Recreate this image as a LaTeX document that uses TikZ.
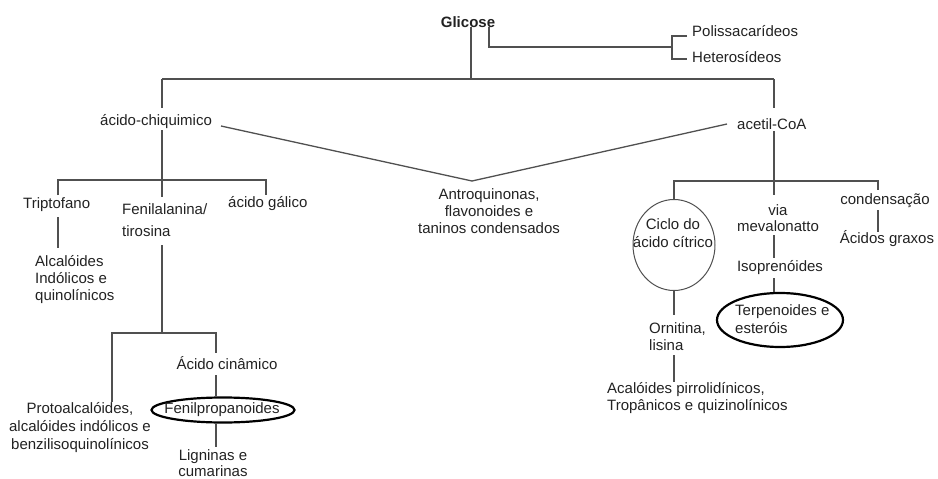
\documentclass[tikz,border=0pt]{standalone}
\usepackage{fontspec}
\setmainfont{Liberation Sans}
\usetikzlibrary{shapes.geometric}
\definecolor{ln}{HTML}{505050}
\definecolor{tx}{HTML}{222222}
\begin{document}
\begin{tikzpicture}[x=1pt,y=-1pt,
  lbl/.style={inner sep=0pt,text=tx,font=\fontsize{15}{17}\selectfont},
  conn/.style={draw=ln,line width=1.3pt},
  thinoval/.style={draw=ln,line width=1pt,ellipse,inner sep=0pt},
  thickoval/.style={draw=black,line width=2.2pt,ellipse,inner sep=0pt}]
\useasboundingbox (0,0) rectangle (938,479);
% text nodes
\node[lbl,font=\fontsize{15}{17}\selectfont\bfseries] (glic) at (468,22) {Glicose};
\node[lbl,anchor=west] (poli) at (692,31) {Polissacarídeos};
\node[lbl,anchor=west] (hetero) at (692,57) {Heterosídeos};
\node[lbl,anchor=west] (chiq) at (100,122) {ácido-chiquimico};
\node[lbl,anchor=west] (acetil) at (737,124) {acetil-CoA};
\node[lbl,align=center] (antro) at (489,211) {Antroquinonas,\\flavonoides e\\taninos condensados};
\node[lbl,anchor=west] (trip) at (23,205) {Triptofano};
\node[lbl,anchor=west,align=left] (feni) at (122,220) {Fenilalanina/\\[5pt]tirosina};
\node[lbl,anchor=west] (galico) at (228,204) {ácido gálico};
\node[lbl,anchor=west,align=left] (alcal) at (35,280) {Alcalóides\\Indólicos e\\quinolínicos};
\node[lbl] (cina) at (227,363) {Ácido cinâmico};
\node[thickoval,minimum width=143pt,minimum height=25pt] (fenilO) at (223,410) {};
\node[lbl] (fenil) at (222,410) {Fenilpropanoides};
\node[lbl,align=center,font=\fontsize{15}{18}\selectfont] (proto) at (80,428) {Protoalcalóides,\\alcalóides indólicos e\\benzilisoquinolínicos};
\node[lbl,align=center,font=\fontsize{15}{16}\selectfont] (lign) at (213,463) {Ligninas e\\cumarinas};
\node[thinoval,minimum width=82pt,minimum height=91pt] (cicloO) at (674,245) {};
\node[lbl,align=center,font=\fontsize{15}{18}\selectfont] (ciclo) at (673,233) {Ciclo do\\ácido cítrico};
\node[lbl,align=center,font=\fontsize{15}{16}\selectfont] (via) at (778,218) {via\\mevalonatto};
\node[lbl] (isop) at (780,268) {Isoprenóides};
\node[thickoval,minimum width=126pt,minimum height=54pt] (terpO) at (780,320) {};
\node[lbl,anchor=west,align=left,font=\fontsize{15}{18}\selectfont] (terp) at (735,319) {Terpenoides e\\esteróis};
\node[lbl] (cond) at (885,201) {condensação};
\node[lbl] (graxos) at (887,239) {Ácidos graxos};
\node[lbl,anchor=west,align=left] (orni) at (649,337) {Ornitina,\\lisina};
\node[lbl,anchor=west,align=left] (acal) at (607,398) {Acalóides pirrolidínicos,\\Tropânicos e quizinolínicos};
% junction coordinates
\coordinate (g1) at (471,27);
\coordinate (g2) at (489,27);
\coordinate (gh) at (471,79);
\coordinate (hL) at (162,79);
\coordinate (hR) at (774,79);
\coordinate (cL) at (162,108);
\coordinate (cR) at (774,108);
\coordinate (b1) at (672,47);
\coordinate (b1t) at (672,36);
\coordinate (b1b) at (672,59);
\coordinate (cq) at (162,130);
\coordinate (j2) at (162,180);
\coordinate (vA) at (221,126);
\coordinate (vB) at (472,181);
\coordinate (vC) at (727,124);
\coordinate (ac) at (774,131);
\coordinate (j3) at (774,181);
\coordinate (fz) at (162,245);
\coordinate (j4) at (162,333);
% connectors
\draw[conn] (g1) -- (gh) (hL) -- (hR);
\draw[conn] (hL) -- (cL);
\draw[conn] (hR) -- (cR);
\draw[conn] (g2) |- (b1);
\draw[conn] (poli.west |- b1t) ++(-5,0) -- (b1t) -- (b1b) -- ++(15,0);
\draw[conn] (cq) -- (j2);
\draw[conn] (58,195) |- (j2) -| (266,195);
\draw[conn] (j2) -- (162,197);
\draw[conn] (vA) -- (vB) -- (vC);
\draw[conn] (58,217) -- (58,248);
\draw[conn] (fz) -- (j4);
\draw[conn] (112,402) |- (j4) -| (216,353);
\draw[conn] (216,375) -- (fenilO.north -| 216,0);
\draw[conn] (216,423) -- (216,447);
\draw[conn] (ac) -- (j3);
\draw[conn] (cicloO.north) |- (j3) -| (878,190);
\draw[conn] (j3) -- (774,195);
\draw[conn] (774,235) -- (774,258);
\draw[conn] (774,278) -- (terpO.north -| 774,0);
\draw[conn] (878,210) -- (878,232);
\draw[conn] (cicloO.south) -- (674,315);
\draw[conn] (674,355) -- (674,382);
\end{tikzpicture}
\end{document}
